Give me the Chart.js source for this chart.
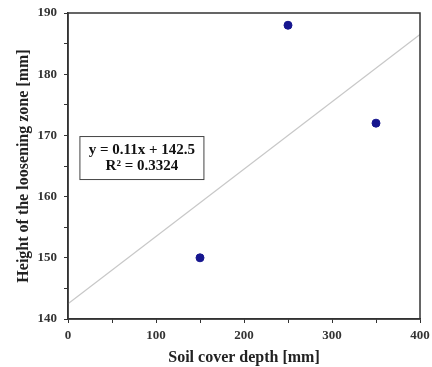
<!DOCTYPE html>
<html>
<head>
<meta charset="utf-8">
<script src="https://cdn.jsdelivr.net/npm/chart.js@4"></script>
<style>
  html, body { margin: 0; padding: 0; background: #fff; }
  #wrap { width: 432px; height: 367px; }
</style>
</head>
<body>
<div id="wrap"><canvas id="soilChart" width="432" height="367"></canvas></div>
<script>
// measured points
const coverDepth = [150, 250, 350];
const zoneHeight = [150, 188, 172];

// linear trendline ends (from the fit printed on the chart)
const trendX = [0, 400];
const trendY = [142.5, 186.5];

const fitLines = ['y = 0.11x + 142.5', 'R\u00b2 = 0.3324'];

const xTickLabels = [0, 100, 200, 300, 400];
const yTickLabels = [140, 150, 160, 170, 180, 190];

const serif = "'Liberation Serif', 'Times New Roman', serif";

// frame around the plot + the equation box
const framePlugin = {
  id: 'frame',
  afterDraw(chart) {
    const { ctx, chartArea: a, scales } = chart;
    ctx.save();
    ctx.strokeStyle = '#333';
    ctx.lineWidth = 1.5;
    ctx.strokeRect(a.left, a.top, a.right - a.left, a.bottom - a.top);

    // equation box, anchored in data space
    const cx = scales.x.getPixelForValue(84);
    const cy = scales.y.getPixelForValue(166.3);
    const w = 124, h = 43;
    ctx.fillStyle = '#fff';
    ctx.fillRect(cx - w / 2, cy - h / 2, w, h);
    ctx.strokeStyle = '#444';
    ctx.lineWidth = 1;
    ctx.strokeRect(cx - w / 2, cy - h / 2, w, h);
    ctx.fillStyle = '#111';
    ctx.font = 'bold 15px ' + serif;
    ctx.textAlign = 'center';
    ctx.textBaseline = 'middle';
    ctx.fillText(fitLines[0], cx, cy - 8);
    ctx.fillText(fitLines[1], cx, cy + 8);
    ctx.restore();
  }
};

const ctx = document.getElementById('soilChart').getContext('2d');
const soilChart = new Chart(ctx, {
  type: 'scatter',
  data: {
    datasets: [
      {
        label: 'Trend',
        type: 'line',
        data: trendX.map((x, i) => ({ x: x, y: trendY[i] })),
        borderColor: '#c8c8c8',
        borderWidth: 1.3,
        pointRadius: 0,
        fill: false
      },
      {
        label: 'Measured',
        data: coverDepth.map((x, i) => ({ x: x, y: zoneHeight[i] })),
        backgroundColor: '#16168f',
        borderColor: '#16168f',
        pointRadius: 4,
        pointHoverRadius: 4
      }
    ]
  },
  options: {
    responsive: false,
    animation: false,
    layout: { padding: { top: 13, right: 12, left: 4, bottom: 0 } },
    plugins: {
      legend: { display: false },
      tooltip: { enabled: false }
    },
    scales: {
      x: {
        type: 'linear',
        min: 0,
        max: 400,
        ticks: {
          stepSize: 50,
          color: '#333',
          font: { family: serif, size: 13, weight: 'bold' },
          padding: 5,
          maxRotation: 0,
          callback: (v) => xTickLabels.includes(v) ? v : ''
        },
        grid: { drawOnChartArea: false, tickLength: 4, color: '#333' },
        border: { color: '#333', width: 1.5 },
        title: {
          display: true,
          text: 'Soil cover depth [mm]',
          color: '#222',
          font: { family: serif, size: 16, weight: 'bold' },
          padding: { top: 0, bottom: 0 }
        },
        afterFit: (s) => { s.height = 48; s.paddingLeft = 0; s.paddingRight = 0; }
      },
      y: {
        min: 140,
        max: 190,
        ticks: {
          stepSize: 5,
          color: '#333',
          font: { family: serif, size: 13, weight: 'bold' },
          padding: 7,
          callback: (v) => yTickLabels.includes(v) ? v : ''
        },
        grid: { drawOnChartArea: false, tickLength: 4, color: '#333' },
        border: { color: '#333', width: 1.5 },
        title: {
          display: true,
          text: 'Height of the loosening zone [mm]',
          color: '#222',
          font: { family: serif, size: 16, weight: 'bold' },
          padding: { top: 10, bottom: 0 }
        },
        afterFit: (s) => { s.width = 64; s.paddingTop = 0; s.paddingBottom = 0; }
      }
    }
  },
  plugins: [framePlugin]
});
</script>
</body>
</html>
